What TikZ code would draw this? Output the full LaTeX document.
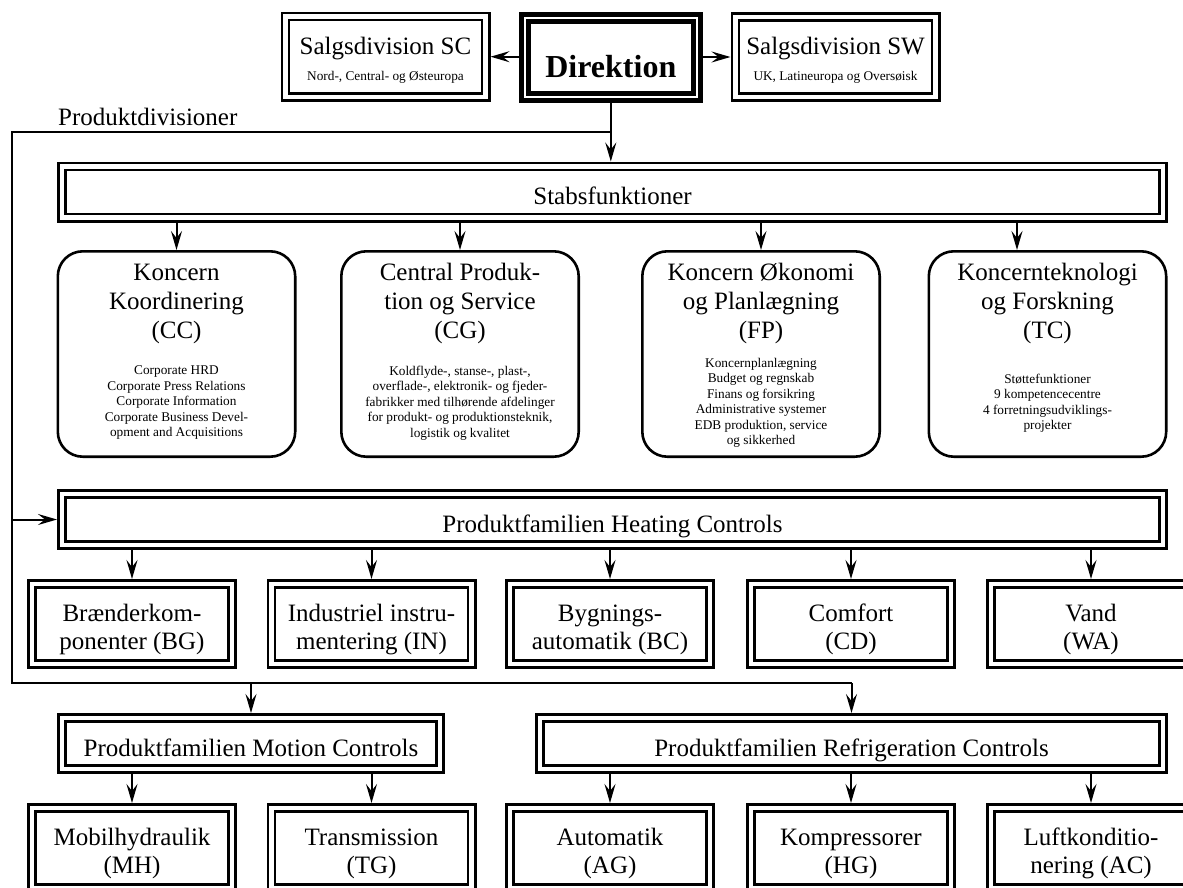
\documentclass[tikz,border=0pt]{standalone}
\usepackage{fontspec}
\setmainfont{Liberation Serif}
\usetikzlibrary{arrows.meta}

\newcommand{\bigf}{\fontsize{25}{28.5}\selectfont}
\newcommand{\titlef}{\fontsize{25}{29}\selectfont}
\newcommand{\salgf}{\fontsize{25}{26}\selectfont}
\newcommand{\salgsmall}{\fontsize{13.3}{26}\selectfont}
\newcommand{\smallf}{\fontsize{13.3}{15.5}\selectfont}

\tikzset{
  conn/.style={line width=2pt},
  arr/.style={conn, -{Stealth[length=19pt,width=11pt,inset=7pt]}},
  dline/.style={draw, line width=2.6pt, double=white, double distance=4.5pt, outer sep=4.85pt, inner sep=0pt},
  dbox/.style={dline, align=center, font=\bigf, minimum width=200.3pt, minimum height=80.3pt, text height=53pt, text depth=2pt},
  salg/.style={dline, align=center, font=\salgf, minimum width=200.3pt, minimum height=80.2pt, text height=49pt, text depth=1.4pt},
  wide/.style={dline, font=\bigf, minimum height=51.3pt, text height=26pt, text depth=1pt},
  dirbox/.style={draw, line width=5.2pt, double=white, double distance=2pt, outer sep=6.2pt, inner sep=0pt,
    font=\fontsize{32}{36}\selectfont\bfseries, minimum width=172pt, minimum height=78.9pt, text height=42pt, text depth=1pt},
  rbox/.style={draw, line width=2.6pt, rounded corners=25pt, minimum width=237.4pt, minimum height=205.4pt, outer sep=1.3pt, inner sep=0pt},
  ttl/.style={font=\titlef, align=center, inner sep=0pt, anchor=base},
  det/.style={font=\smallf, align=center, inner sep=0pt},
}

\begin{document}
\begin{tikzpicture}[x=1pt,y=-1pt]
\useasboundingbox (0,0) rectangle (1183,887);
\clip (0,0) rectangle (1183,887);

% top row
\node[dirbox] (dir) at (610.8,57.35) {Direktion};
\node[salg] (sc) at (385.5,56.7) {Salgsdivision SC\\{\salgsmall Nord-, Central- og Østeuropa}};
\node[salg] (sw) at (835.5,57) {Salgsdivision SW\\{\salgsmall UK, Latineuropa og Oversøisk}};
\draw[arr] (dir.west |- sc.east) -- (sc.east);
\draw[arr] (dir.east |- sw.west) -- (sw.west);

% staff
\node[wide, minimum width=1101.3pt] (stabs) at (612.5,192) {Stabsfunktioner};
\draw[arr] (dir.south) -- (dir.south |- stabs.north);

% product divisions line
\node[font=\bigf, anchor=base west, inner sep=0pt] (pdlabel) at (58,125) {Produktdivisioner};
\coordinate (j0) at (dir.south |- 0,132);
\coordinate (c1) at (12,132);
\coordinate (c2) at (12,683);
\coordinate (c3) at (851.5,683);
\draw[conn] (j0) -- (c1) -- (c2) -- (c3);

% rounded staff boxes
\node[rbox] (cc) at (176.5,354) {};
\node[rbox] (cg) at (460,354) {};
\node[rbox] (fp) at (761,354) {};
\node[rbox] (tc) at (1047.5,354) {};

\node[ttl] (cct) at (176.5,338) {Koncern\\Koordinering\\(CC)};
\node[ttl] (cgt) at (460,338) {Central Produk-\\tion og Service\\(CG)};
\node[ttl] (fpt) at (761,338) {Koncern Økonomi\\og Planlægning\\(FP)};
\node[ttl] (tct) at (1047.5,338) {Koncernteknologi\\og Forskning\\(TC)};

\node[det] (ccd) at (176.5,403) {Corporate HRD\\Corporate Press Relations\\Corporate Information\\Corporate Business Devel-\\opment and Acquisitions};
\node[det] (cgd) at (460,403) {Koldflyde-, stanse-, plast-,\\overflade-, elektronik- og fjeder-\\fabrikker med tilhørende afdelinger\\for produkt- og produktionsteknik,\\logistik og kvalitet};
\node[det] (fpd) at (761,403) {Koncernplanlægning\\Budget og regnskab\\Finans og forsikring\\Administrative systemer\\EDB produktion, service\\og sikkerhed};
\node[det] (tcd) at (1047.5,403) {Støttefunktioner\\9 kompetencecentre\\4 forretningsudviklings-\\projekter};

\draw[arr] (stabs.south -| cc.north) -- (cc.north);
\draw[arr] (stabs.south -| cg.north) -- (cg.north);
\draw[arr] (stabs.south -| fp.north) -- (fp.north);
\coordinate (tcin) at (1017,0);
\draw[arr] (stabs.south -| tcin) -- (tc.north -| tcin);

% heating
\node[wide, minimum width=1101.3pt] (heat) at (612.5,519.5) {Produktfamilien Heating Controls};
\coordinate (c4) at (c1 |- heat.west);
\draw[arr] (c4) -- (heat.west);

\node[dbox] (bg) at (132,624) {Brænderkom-\\ponenter (BG)};
\node[dbox] (in) at (371.5,624) {Industriel instru-\\mentering (IN)};
\node[dbox] (bc) at (610,624) {Bygnings-\\automatik (BC)};
\node[dbox] (cd) at (851,624) {Comfort\\(CD)};
\node[dbox] (wa) at (1091,624) {Vand\\(WA)};
\foreach \b in {bg,in,bc,cd,wa} {\draw[arr] (heat.south -| \b.north) -- (\b.north);}

% motion & refrigeration
\node[wide, minimum width=378.3pt] (mot) at (251,743.5) {Produktfamilien Motion Controls};
\node[wide, minimum width=623.3pt] (ref) at (851.5,743.5) {Produktfamilien Refrigeration Controls};
\coordinate (c5) at (mot.north |- c2);
\draw[arr] (c5) -- (mot.north);
\draw[arr] (c3) -- (c3 |- ref.north);

\node[dbox] (mh) at (132,848) {Mobilhydraulik\\(MH)};
\node[dbox] (tg) at (371.5,848) {Transmission\\(TG)};
\node[dbox] (ag) at (610,848) {Automatik\\(AG)};
\node[dbox] (hg) at (851,848) {Kompressorer\\(HG)};
\node[dbox] (ac) at (1091,848) {Luftkonditio-\\nering (AC)};
\foreach \b in {mh,tg} {\draw[arr] (mot.south -| \b.north) -- (\b.north);}
\foreach \b in {ag,hg,ac} {\draw[arr] (ref.south -| \b.north) -- (\b.north);}
\end{tikzpicture}
\end{document}
